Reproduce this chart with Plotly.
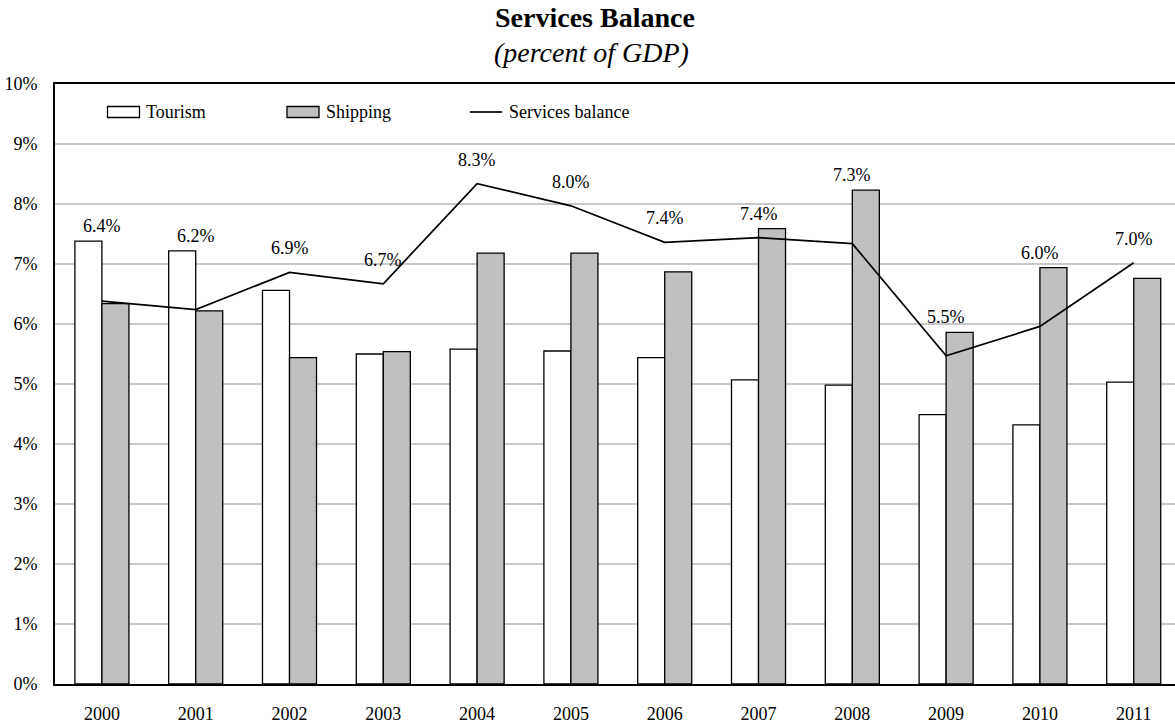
import plotly.graph_objects as go

# Services balance components, percent of GDP
years = ["2000", "2001", "2002", "2003", "2004", "2005",
         "2006", "2007", "2008", "2009", "2010", "2011"]
tourism = [7.38, 7.22, 6.56, 5.50, 5.58, 5.55, 5.44, 5.07, 4.98, 4.49, 4.32, 5.03]
shipping = [6.34, 6.22, 5.44, 5.54, 7.18, 7.18, 6.87, 7.59, 8.23, 5.86, 6.94, 6.76]
services_balance = [6.38, 6.24, 6.86, 6.67, 8.34, 7.97, 7.36, 7.44, 7.34, 5.47, 5.96, 7.02]
y_ticks = list(range(0, 11))

FONT = "Liberation Serif"
W, H = 1175, 725
M_L, M_R, M_T, M_B = 55, 0, 84, 41
PW = W - M_L - M_R
PH = H - M_T - M_B


def px_x(x):
    return (x - M_L) / PW


def px_y(y):
    return 1 - (y - M_T) / PH


fig = go.Figure()

fig.add_trace(go.Bar(
    x=years, y=tourism, name="Tourism",
    marker=dict(color="white", line=dict(color="black", width=1.3)),
    showlegend=False,
))
fig.add_trace(go.Bar(
    x=years, y=shipping, name="Shipping",
    marker=dict(color="#c0c0c0", line=dict(color="black", width=1.3)),
    showlegend=False,
))
fig.add_trace(go.Scatter(
    x=years, y=services_balance, name="Services balance", mode="lines",
    line=dict(color="black", width=1.7),
    showlegend=False,
))

# value labels for the services balance, lifted above the tallest mark of each year
annotations = []
for i, (t, s, b) in enumerate(zip(tourism, shipping, services_balance)):
    top = max(t, s, b)
    lift = 24 if b >= max(t, s) else 15
    annotations.append(dict(
        x=i, y=top, xref="x", yref="y", text=f"{b:.1f}%",
        showarrow=False, yanchor="middle", xanchor="center", yshift=lift,
        font=dict(family=FONT, size=18, color="black"),
    ))

# title block
annotations.append(dict(
    x=px_x(595), y=px_y(18), xref="paper", yref="paper",
    text="<b>Services Balance</b>", showarrow=False,
    xanchor="center", yanchor="middle",
    font=dict(family=FONT, size=28, color="black"),
))
annotations.append(dict(
    x=px_x(591), y=px_y(52), xref="paper", yref="paper",
    text="<i>(percent of GDP)</i>", showarrow=False,
    xanchor="center", yanchor="middle",
    font=dict(family=FONT, size=28, color="black"),
))

# legend drawn inside the plot area along the top
shapes = []
legend_y = 112
legend_items = [
    ("Tourism", "bar", "white", 107.5),
    ("Shipping", "bar", "#c0c0c0", 287),
    ("Services balance", "line", None, 470),
]
for label, kind, fill, x0 in legend_items:
    if kind == "bar":
        shapes.append(dict(
            type="rect", xref="paper", yref="paper",
            x0=px_x(x0), x1=px_x(x0 + 32),
            y0=px_y(legend_y + 5.5), y1=px_y(legend_y - 5.5),
            fillcolor=fill, line=dict(color="black", width=1.3),
        ))
    else:
        shapes.append(dict(
            type="line", xref="paper", yref="paper",
            x0=px_x(x0), x1=px_x(x0 + 32),
            y0=px_y(legend_y), y1=px_y(legend_y),
            line=dict(color="black", width=1.7),
        ))
    annotations.append(dict(
        x=px_x(x0 + 36.5), y=px_y(legend_y), xref="paper", yref="paper",
        text=label, showarrow=False, xanchor="left", yanchor="middle",
        font=dict(family=FONT, size=18, color="black"),
    ))

fig.update_layout(
    width=W, height=H,
    margin=dict(l=M_L, r=M_R, t=M_T, b=M_B, pad=0),
    paper_bgcolor="white", plot_bgcolor="white",
    barmode="group", bargap=0.424, bargroupgap=0,
    font=dict(family=FONT, size=18, color="black"),
    annotations=annotations,
    shapes=shapes,
    showlegend=False,
)

fig.update_xaxes(
    type="category", range=[-0.5, 11.44],
    showline=True, linecolor="black", linewidth=2, mirror=True,
    showgrid=False, ticks="", ticklabelstandoff=12,
    tickfont=dict(family=FONT, size=18, color="black"),
)
fig.update_yaxes(
    range=[0, 10], tickmode="array", tickvals=y_ticks,
    ticktext=[f"{v}%" for v in y_ticks],
    showline=True, linecolor="black", linewidth=2,
    showgrid=True, gridcolor="#c8c8c8", gridwidth=1.5,
    zeroline=False, ticks="", ticklabelstandoff=12,
    tickfont=dict(family=FONT, size=18, color="black"),
)

fig.write_html("out.html")
